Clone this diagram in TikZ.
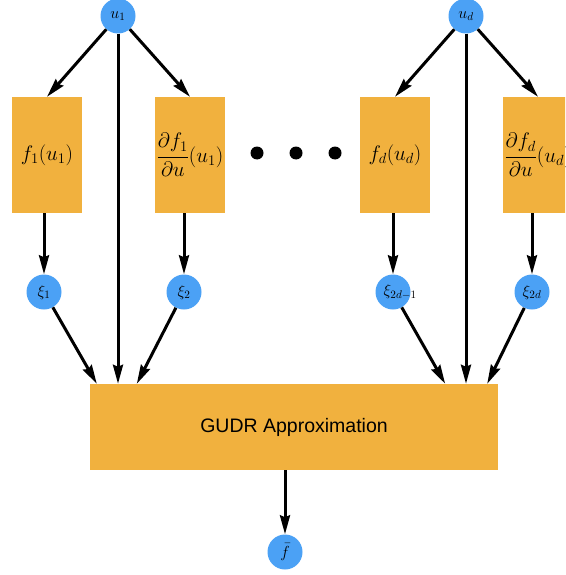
\RequirePackage{fix-cm}
\documentclass[tikz,border=0pt]{standalone}
\usepackage{amsmath}
\usepackage{fontspec}
\setsansfont{Liberation Sans}
\usepackage{xcolor}
\definecolor{boxorange}{RGB}{241,177,62}
\definecolor{varblue}{RGB}{75,161,245}
\usetikzlibrary{arrows.meta,positioning}

\begin{document}
\begin{tikzpicture}[
      x=1pt, y=-1pt,
      font=\fontsize{21}{25}\selectfont,
      box/.style={fill=boxorange, inner sep=0pt,
                  minimum width=70pt, minimum height=116pt},
      var/.style={circle, fill=varblue, inner sep=0pt,
                  minimum size=35pt, font=\fontsize{16}{19}\selectfont},
      dot/.style={circle, fill=black, inner sep=0pt, minimum size=13pt},
      arrow/.style={-{Stealth[length=19pt, width=10pt, inset=2pt]},
                    line width=3pt, color=black}
  ]
  \useasboundingbox (0,0) rectangle (565,575);
  \clip (0,0) rectangle (565,575);

  % inputs
  \node[var] (u1) at (118,16) {$u_1$};
  \node[var] (ud) at (466,16) {$u_d$};

  % function and derivative boxes
  \node[box] (f1)  at (47,155)  {$f_1(u_1)$};
  \node[box] (df1) at (190,155) {$\dfrac{\partial f_1}{\partial u}(u_1)$};
  \node[box] (fd)  at (395,155) {$f_d(u_d)$};
  \node[box] (dfd) at (538,155) {$\dfrac{\partial f_d}{\partial u}(u_d)$};

  \node[dot] (dot1) at (257,153) {};
  \node[dot] (dot2) at (296,153) {};
  \node[dot] (dot3) at (335,153) {};

  % features
  \node[var] (xi1) at (44,292)  {$\xi_1$};
  \node[var] (xi2) at (184,292) {$\xi_2$};
  \node[var] (xi3) at (393,292) {$\xi_{2d\rlap{$\scriptstyle-1$}}$};
  \node[var] (xi4) at (532,292) {$\xi_{2d}$};

  \node[box, minimum width=408pt, minimum height=86pt,
        font=\sffamily\fontsize{19.5}{23}\selectfont] (gudr) at (294,427) {GUDR Approximation};
  \node[var] (fbar) at (285,552) {$\bar{f}$};

  \draw[arrow] (u1) -- (f1.north);
  \draw[arrow] (u1) -- (df1.north);
  \draw[arrow] (u1) -- (u1 |- gudr.north);
  \draw[arrow] (ud) -- (fd.north);
  \draw[arrow] (ud) -- (dfd.north);
  \draw[arrow] (ud) -- (ud |- gudr.north);

  \draw[arrow] (f1.south -| xi1)  -- (xi1);
  \draw[arrow] (df1.south -| xi2) -- (xi2);
  \draw[arrow] (fd.south -| xi3)  -- (xi3);
  \draw[arrow] (dfd.south -| xi4) -- (xi4);

  \draw[arrow] (xi1) -- ([xshift=7pt]gudr.north west);
  \draw[arrow] (xi2) -- ([xshift=47pt]gudr.north west);
  \draw[arrow] (xi3) -- ([xshift=-53pt]gudr.north east);
  \draw[arrow] (xi4) -- ([xshift=-11pt]gudr.north east);

  \draw[arrow] (gudr.south -| fbar) -- (fbar);
\end{tikzpicture}
\end{document}
